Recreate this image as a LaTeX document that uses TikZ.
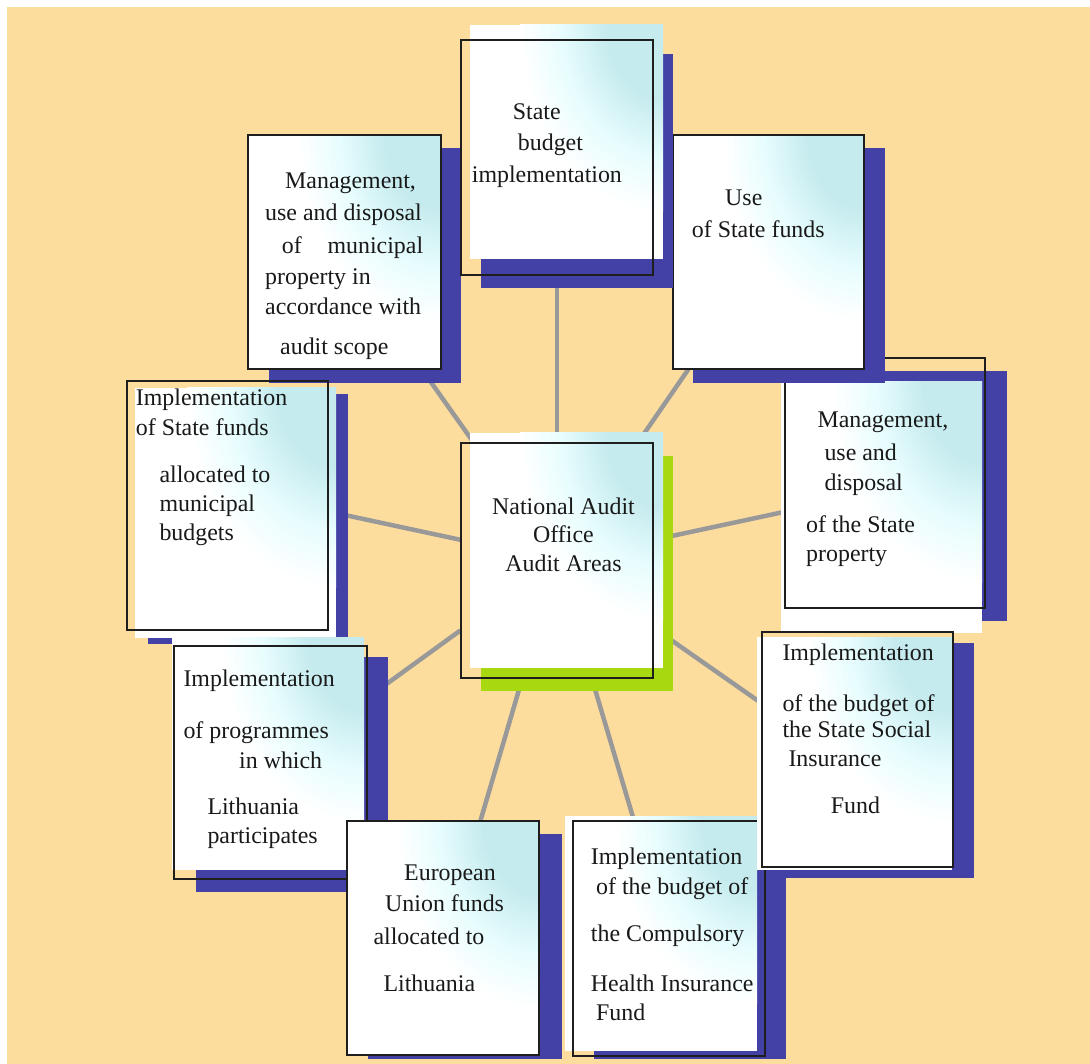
\documentclass[tikz,border=0pt]{standalone}
\usepackage{fontspec}
\setmainfont{Liberation Serif}
\usetikzlibrary{fit}
\definecolor{beige}{RGB}{253,221,158}
\definecolor{shblue}{RGB}{67,65,166}
\definecolor{shgreen}{RGB}{168,216,16}
\definecolor{cyA}{RGB}{198,235,238}
\definecolor{cyB}{RGB}{232,253,254}
\definecolor{linegray}{RGB}{153,153,153}
\definecolor{outl}{RGB}{30,30,30}
\definecolor{txt}{RGB}{25,25,25}
\pgfdeclareradialshading{corner}{\pgfpoint{0bp}{0bp}}{color(0bp)=(cyA); color(10bp)=(cyA); color(18bp)=(cyB); color(25bp)=(white); color(50bp)=(white)}
\pgfdeclarelayer{back}
\pgfdeclarelayer{links}
\pgfsetlayers{back,links,main}
\newcommand\shrect[5]{\fill[#1] (#2,#3) rectangle (#4,#5);}
\newcommand\gradrect[4]{%
  \begin{scope}
    \clip (#1,#2) rectangle (#3,#4);
    \fill[white] (#1,#2) rectangle (#3,#4);
    \pgfmathsetmacro\myrx{0.74*(#3-#1)}
    \pgfmathsetmacro\myry{0.8*(#4-#2)}
    \shade[shading=corner] (#3,#2) ellipse [x radius=\myrx pt, y radius=\myry pt];
  \end{scope}}
\begin{document}
\begin{tikzpicture}[x=1pt,y=-1pt,
  outbox/.style={draw=outl, line width=1.3pt, inner sep=0pt},
  ln/.style={anchor=base west, inner sep=0pt, text=txt, font=\fontsize{23.9}{28}\selectfont},
  lnc/.style={ln, anchor=base},
  link/.style={draw=linegray, line width=4.5pt}]
\useasboundingbox (0,0) rectangle (1090,1064);
\begin{pgfonlayer}{back}
  \fill[beige] (7,7) rectangle (1090,1064);
\end{pgfonlayer}

% State property
\shrect{shblue}{805}{371}{1007}{621}
\gradrect{781}{382}{982}{633}
\node[outbox, fit={(785,358) (985,608)}] (P) {};
\node[ln] (P1) at (817.3,427.3) {Management,};
\node[ln] (P2) at (824.3,460.7) {use and};
\node[ln] (P3) at (824.3,490.7) {disposal};
\node[ln] (P4) at (806,532.7) {of the State};
\node[ln] (P5) at (806,561.7) {property};

% Use of State funds
\shrect{shblue}{693}{148}{885}{383}
\gradrect{673}{135}{864}{369}
\node[outbox, fit={(673,135) (864,369)}] (U) {};
\node[ln] (U1) at (725,206) {Use};
\node[ln] (U2) at (691.7,237.7) {of State funds};

% Municipal property
\shrect{shblue}{269}{148}{461}{383}
\gradrect{248}{135}{441}{369}
\node[outbox, fit={(248,135) (441,369)}] (M) {};
\node[ln] (M1) at (285,189) {Management,};
\node[ln] (M2) at (265,221) {use and disposal};
\node[ln] (M3) at (281.7,253.3) {of\hspace{25.8pt}municipal};
\node[ln] (M4) at (265,284.3) {property in};
\node[ln] (M5) at (265,314.3) {accordance with};
\node[ln] (M6) at (280,355) {audit scope};

% State budget
\shrect{shblue}{481}{54}{673}{288}
\gradrect{470}{25}{663}{259}
\node[outbox, fit={(461,40) (653,275)}] (B) {};
\node[ln] (B1) at (512.7,119.3) {State};
\node[ln] (B2) at (517.7,150.3) {budget};
\node[ln] (B3) at (471.7,182.3) {implementation};

% State funds to municipal budgets
\shrect{shblue}{148}{394}{348}{644}
\gradrect{135}{388}{336}{638}
\node[outbox, fit={(127,381) (328,630)}] (F) {};
\node[ln] (F1) at (135.7,405.7) {Implementation};
\node[ln] (F2) at (135.7,435.7) {of State funds};
\node[ln] (F3) at (159.3,482.3) {allocated to};
\node[ln] (F4) at (159.3,511.7) {municipal};
\node[ln] (F5) at (159.3,540) {budgets};

% Programmes
\shrect{shblue}{196}{657}{388}{892}
\gradrect{172}{637}{364}{870}
\node[outbox, fit={(174,646) (367,879)}] (G) {};
\node[ln] (G1) at (183.3,686.7) {Implementation};
\node[ln] (G2) at (183.3,738.3) {of programmes};
\node[ln] (G3) at (239,768.3) {in which};
\node[ln] (G4) at (207.3,814) {Lithuania};
\node[ln] (G5) at (207.3,843.3) {participates};

% European Union funds
\shrect{shblue}{368}{834}{562}{1059}
\gradrect{347}{821}{539}{1055}
\node[outbox, fit={(347,821) (539,1055)}] (E) {};
\node[ln] (E1) at (404,880.7) {European};
\node[ln] (E2) at (385,911.7) {Union funds};
\node[ln] (E3) at (373.3,944) {allocated to};
\node[ln] (E4) at (383.3,991.7) {Lithuania};

% Compulsory Health Insurance Fund
\shrect{shblue}{594}{835}{786}{1059}
\gradrect{565}{816}{757}{1051}
\node[outbox, fit={(573,821) (765,1056)}] (H) {};
\node[ln] (H1) at (590.7,864.3) {Implementation};
\node[ln] (H2) at (596,894) {of the budget of};
\node[ln] (H3) at (590.7,941) {the Compulsory};
\node[ln] (H4) at (590.7,991.7) {Health Insurance};
\node[ln] (H5) at (596,1020.7) {Fund};

% State Social Insurance Fund
\shrect{shblue}{782}{643}{974}{878}
\gradrect{757}{637}{952}{870}
\node[outbox, fit={(762,632) (953,867)}] (S) {};
\node[ln] (S1) at (782.3,660.7) {Implementation};
\node[ln] (S2) at (782.3,711.7) {of the budget of};
\node[ln] (S3) at (782.3,737.7) {the State Social};
\node[ln] (S4) at (788.3,766.7) {Insurance};
\node[ln] (S5) at (830.7,813.3) {Fund};

% Centre
\shrect{shgreen}{481}{456}{673}{691}
\gradrect{470}{433}{663}{668}
\node[outbox, fit={(461,443) (653,678)}] (C) {};
\node[lnc] (C1) at (563.5,514.3) {National Audit};
\node[lnc] (C2) at (563.5,542.7) {Office};
\node[lnc] (C3) at (563.5,571.7) {Audit Areas};

% connectors
\coordinate (eB) at (557,282);
\coordinate (eM) at (428,378);
\coordinate (eU) at (692,364);
\coordinate (eP) at (793,510);
\coordinate (eF) at (340,514);
\coordinate (eG) at (381,688);
\coordinate (eS) at (764,705);
\coordinate (eE) at (478,829);
\coordinate (eH) at (635,824);
\begin{pgfonlayer}{links}
  \foreach \e in {eB,eM,eU,eP,eF,eG,eS,eE,eH}
    \draw[link] (C) -- (\e);
\end{pgfonlayer}
\end{tikzpicture}
\end{document}
